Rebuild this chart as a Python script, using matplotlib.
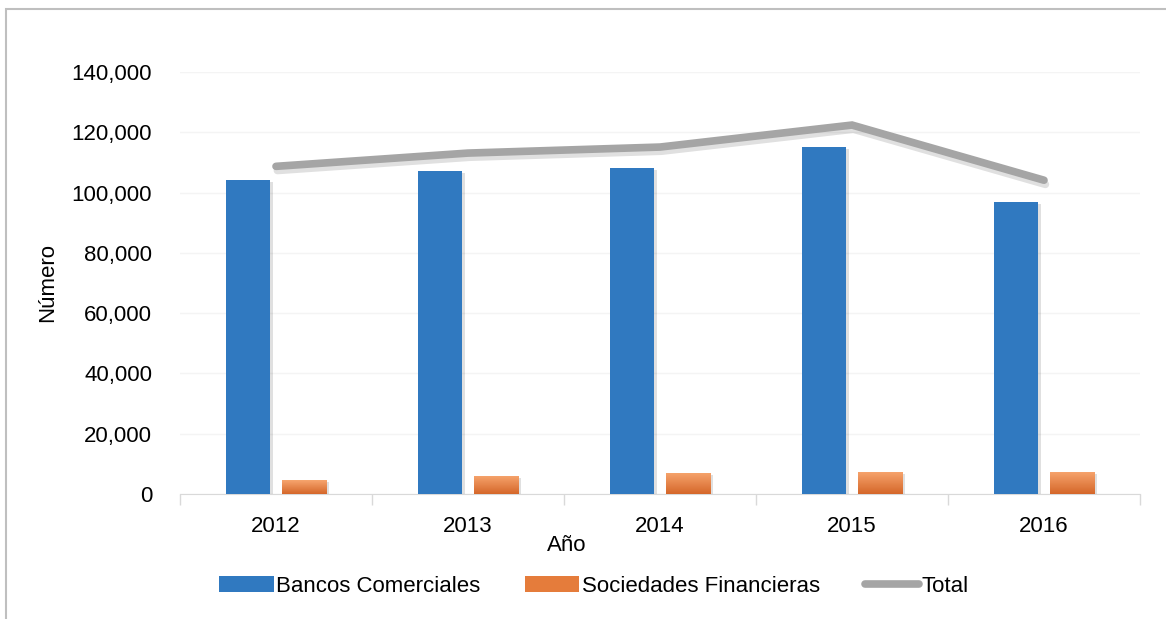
import numpy as np
import matplotlib.pyplot as plt
import matplotlib.patheffects as pe
from matplotlib.lines import Line2D
from matplotlib.patches import Patch, Rectangle
from matplotlib.ticker import FuncFormatter, FixedLocator
from matplotlib.colors import LinearSegmentedColormap

plt.rcParams['font.family'] = ['Liberation Sans', 'DejaVu Sans']

years = ['2012', '2013', '2014', '2015', '2016']
bancos = [104100, 107100, 108100, 115100, 96800]
sociedades = [4600, 6000, 7000, 7300, 7300]
total = [b + s for b, s in zip(bancos, sociedades)]

blue = '#3079C0'
grey = '#A5A5A5'

fig = plt.figure(figsize=(11.66, 6.19), dpi=100)
ax = fig.add_axes([180 / 1166, 1 - 494 / 619, 960 / 1166, (494 - 72) / 619])

x = np.arange(len(years))
w = 0.23
off = 0.145

shadow = [pe.SimplePatchShadow(offset=(2, -1.5), shadow_rgbFace='#000000', alpha=0.12), pe.Normal()]
ax.bar(x - off, bancos, w, color=blue, zorder=3, path_effects=shadow)
orange = ax.bar(x + off, sociedades, w, color='#EE8A48', zorder=3, path_effects=shadow)

# vertical gradient on the orange bars
grad = np.linspace(0, 1, 64).reshape(-1, 1)
ocmap = LinearSegmentedColormap.from_list('og', ['#D5672A', '#F7A56E'])
for r in orange:
    x0, y0 = r.get_x(), r.get_y()
    im = ax.imshow(grad, cmap=ocmap, origin='lower', aspect='auto',
                   extent=[x0, x0 + r.get_width(), y0, y0 + r.get_height()], zorder=4)
    im.set_clip_path(r)

line_shadow = [pe.SimpleLineShadow(offset=(1, -3), shadow_color='#000000', alpha=0.12), pe.Normal()]
ax.plot(x, total, color=grey, lw=5.5, solid_capstyle='round', solid_joinstyle='miter',
        zorder=5, path_effects=line_shadow)

ax.set_xlim(-0.5, len(years) - 0.5)
ax.set_ylim(0, 140000)
ax.set_yticks(np.arange(0, 140001, 20000))
ax.yaxis.set_major_formatter(FuncFormatter(lambda v, p: f'{int(v):,}'))
ax.yaxis.grid(True, color='#F4F4F4', lw=1)
ax.set_axisbelow(True)

ax.set_xticks(x)
ax.set_xticklabels(years)
ax.xaxis.set_minor_locator(FixedLocator(np.arange(-0.5, len(years), 1)))
ax.tick_params(axis='x', which='major', length=0, pad=16, labelsize=16)
ax.tick_params(axis='x', which='minor', length=8, color='#D9D9D9', width=1)
ax.tick_params(axis='y', length=0, pad=20, labelsize=16)

for s in ['top', 'right', 'left']:
    ax.spines[s].set_visible(False)
ax.spines['bottom'].set_color('#D9D9D9')

ax.set_xlabel('Año', fontsize=16)
ax.xaxis.set_label_coords(0.403, -0.098)
ax.set_ylabel('Número', fontsize=16, labelpad=10)

handles = [Patch(facecolor=blue), Patch(facecolor='#E57C3B'),
           Line2D([], [], color=grey, lw=5.5, solid_capstyle='round')]
fig.legend(handles, ['Bancos Comerciales', 'Sociedades Financieras', 'Total'],
           loc='center', bbox_to_anchor=(594 / 1166, 1 - 586 / 619), ncol=3, frameon=False,
           fontsize=16, handlelength=2.45, handletextpad=0.12, columnspacing=2.0)

# outer chart frame
fig.patches.append(Rectangle((6 / 1166, -0.1), 1.2, 1 - 9 / 619 + 0.1, transform=fig.transFigure,
                             fill=False, edgecolor='#BFBFBF', lw=1.5))

fig.savefig('out.png', dpi=100)
